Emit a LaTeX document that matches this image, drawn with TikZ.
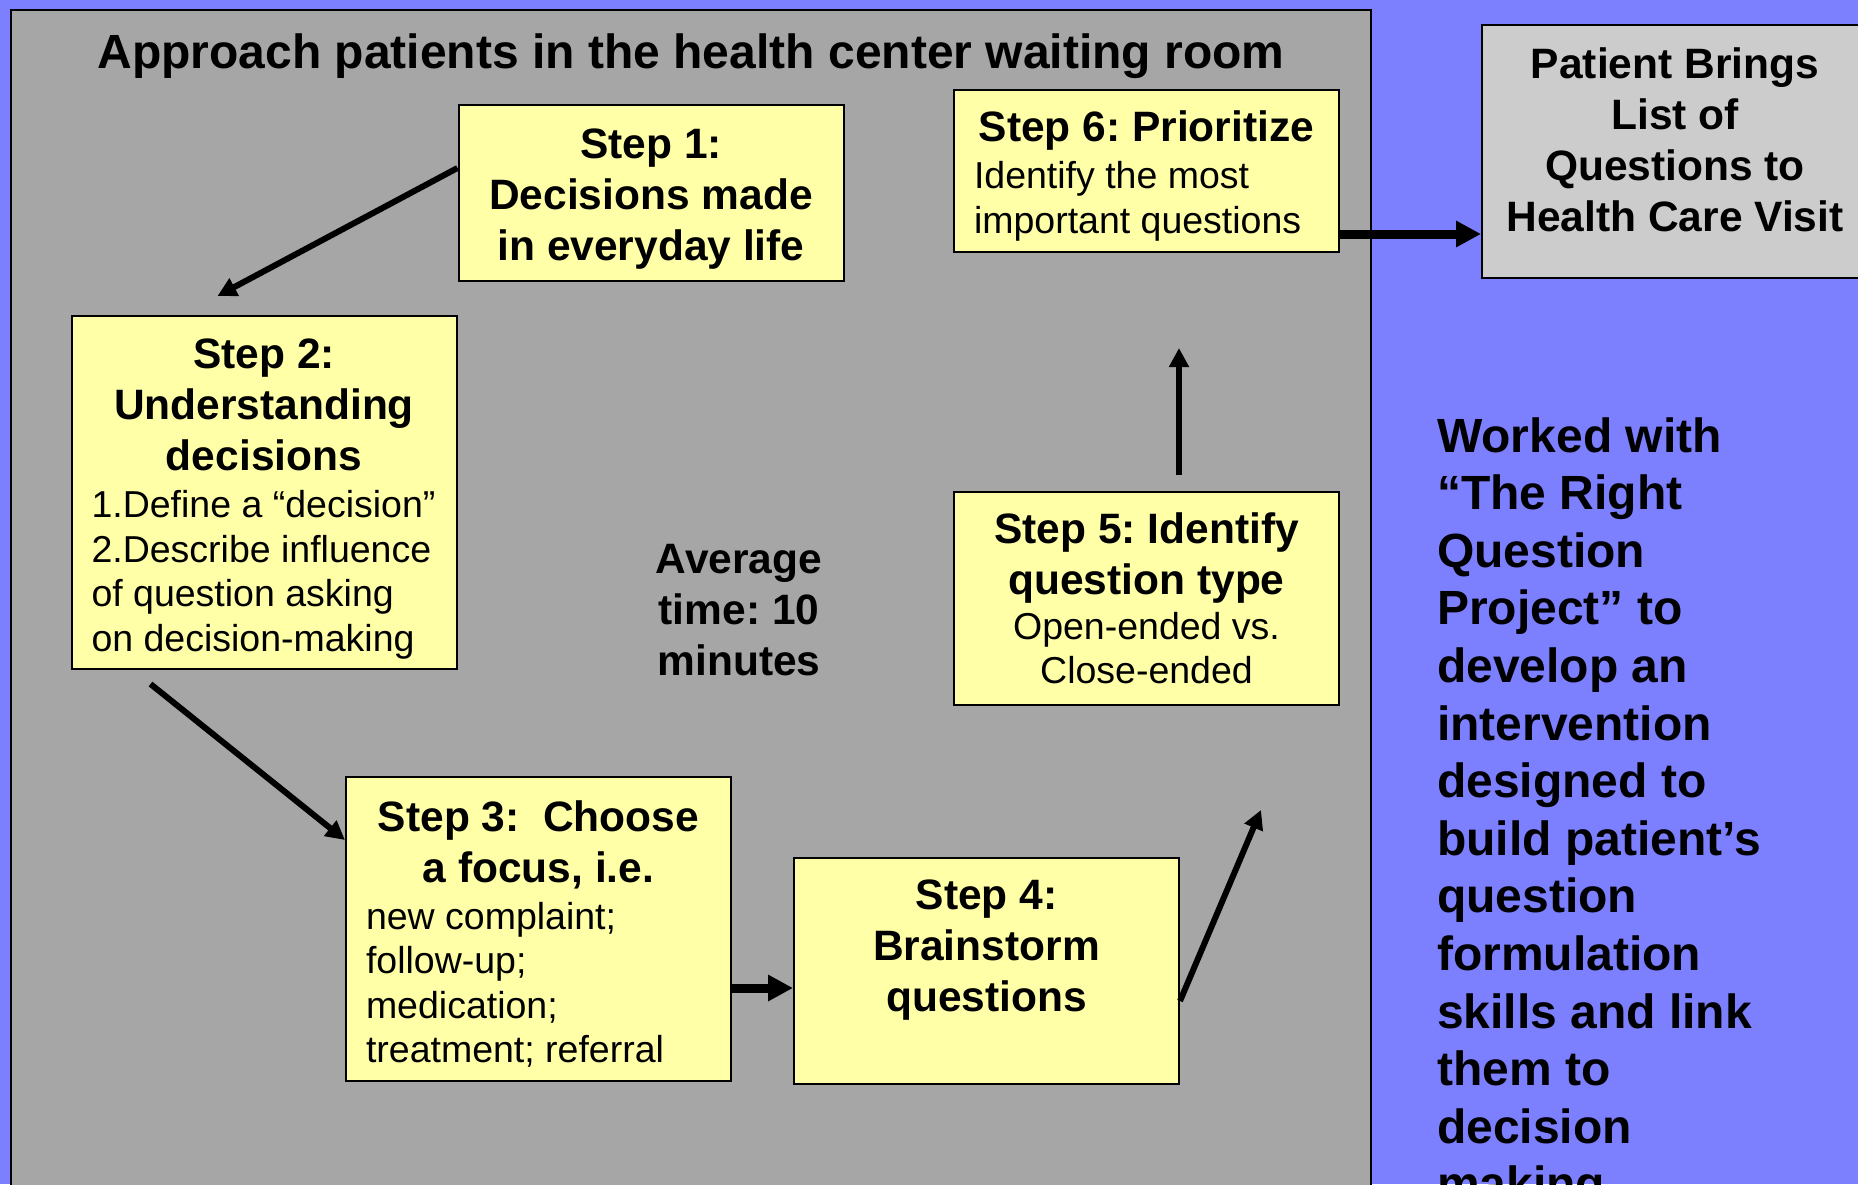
\documentclass[tikz,border=0pt]{standalone}
\usepackage{fontspec}
\setmainfont{Liberation Sans}
\usepackage{xcolor}
\usepackage{tikz}
\usetikzlibrary{positioning,arrows.meta,calc}
\frenchspacing
\definecolor{slideblue}{RGB}{124,128,255}
\definecolor{panelgray}{RGB}{166,166,166}
\definecolor{notepad}{RGB}{255,255,168}
\definecolor{visitgray}{RGB}{204,204,204}
\newcommand{\headfont}{\fontsize{42.5}{51}\selectfont\bfseries\spaceskip=0pt\xspaceskip=0pt}
\newcommand{\bodyfont}{\fontsize{37.5}{44.5}\selectfont\spaceskip=0pt\xspaceskip=0pt}
\newcommand{\notefont}{\fontsize{48}{57.6}\selectfont\bfseries\spaceskip=0pt\xspaceskip=0pt}
\newcommand{\topstrut}{\rule{0pt}{41pt}}
\newcommand{\headgap}{\vspace{2.5pt}}
\tikzset{
  box/.style={draw, line width=2pt, inner xsep=20pt, inner ysep=0pt,
              minimum width=385pt, text width=345pt},
  stepbox/.style={box, fill=notepad},
  visitbox/.style={box, fill=visitgray, minimum width=386pt, text width=346pt},
  arrow/.style={-{Triangle[length=19pt,width=19pt]}, line width=6pt},
  bigarrow/.style={-{Triangle[length=25pt,width=25pt]}, line width=9pt},
}

\begin{document}
\begin{tikzpicture}[x=1pt, y=-1pt]
  \clip (0,0) rectangle (1858,1184);
  \fill[slideblue] (0,0) rectangle (1858,1184);
  \draw[line width=2.5pt, fill=panelgray] (11,10) rectangle (1371,1200);

  \node[anchor=base, font=\notefont] (title) at (691,68)
    {Approach patients in the health center waiting room};

  \node[stepbox, minimum height=176pt] (S1) at (651,193)
    {\headfont\centering\topstrut Step 1:\\Decisions made\\in everyday life\par};
  \node[stepbox, minimum height=353pt, below left=33pt and 0pt of S1] (S2)
    {{\headfont\centering\rule{0pt}{43pt}Step 2:\\Understanding\\decisions\par}\headgap
     {\bodyfont\raggedright 1.Define a “decision”\\2.Describe influence\\of question asking\\on decision-making\par}};
  \node[stepbox, minimum height=304pt] (S3) at (538.5,929)
    {{\headfont\centering\topstrut Step 3:~ Choose\\a focus, i.e.\par}\headgap
     {\bodyfont\raggedright new complaint;\\follow-up;\\medication;\\treatment; referral\par}};
  \node[stepbox, minimum height=226pt] (S4) at (986.5,971)
    {\headfont\centering Step 4:\\Brainstorm\\questions\\~\par};
  \node[stepbox, minimum height=162pt] (S6) at (1146.5,171)
    {{\headfont\centering\topstrut Step 6: Prioritize\par}\headgap
     {\bodyfont\raggedright Identify the most\\important questions\par}};
  \node[stepbox, minimum height=213pt, below=238pt of S6] (S5)
    {{\headfont\centering Step 5: Identify\\question type\par}
     {\bodyfont\centering Open-ended vs.\\Close-ended\par}};

  \node[visitbox, minimum height=253pt] (visit) at (1675,151.5)
    {\headfont\centering Patient Brings\\List of\\Questions to\\Health Care Visit\rule[-24pt]{0pt}{24pt}\par};

  \node[anchor=base, text width=220pt, inner sep=0pt] (avg) at (739,573)
    {\headfont\centering Average\\time: 10\\minutes\par};

  \node[anchor=base west, text width=420pt, inner sep=0pt] (note) at (1437,452)
    {\notefont\raggedright Worked with\\“The Right\\Question\\Project” to\\develop an\\intervention\\designed to\\build patient’s\\question\\formulation\\skills and link\\them to\\decision\\making\par};

  \draw[arrow] ($(S1.west)+(0,-25)$) -- ($(S2.north west)+(147,-19)$);
  \draw[arrow] ($(S2.south west)+(80,14)$) -- ($(S3.west)+(0,-89)$);
  \coordinate (o3) at ($(S3.east)+(0,59)$);
  \draw[bigarrow] (o3) -- (o3 -| S4.west);
  \draw[arrow] ($(S4.east)+(0,30)$) -- ($(S4.north east)+(81,-47)$);
  \draw[arrow] ($(S5.north)+(32.5,-16)$) -- ($(S6.south)+(32.5,95)$);
  \coordinate (o6) at ($(S6.east)+(0,63)$);
  \draw[bigarrow] (o6) -- (o6 -| visit.west);
\end{tikzpicture}
\end{document}
